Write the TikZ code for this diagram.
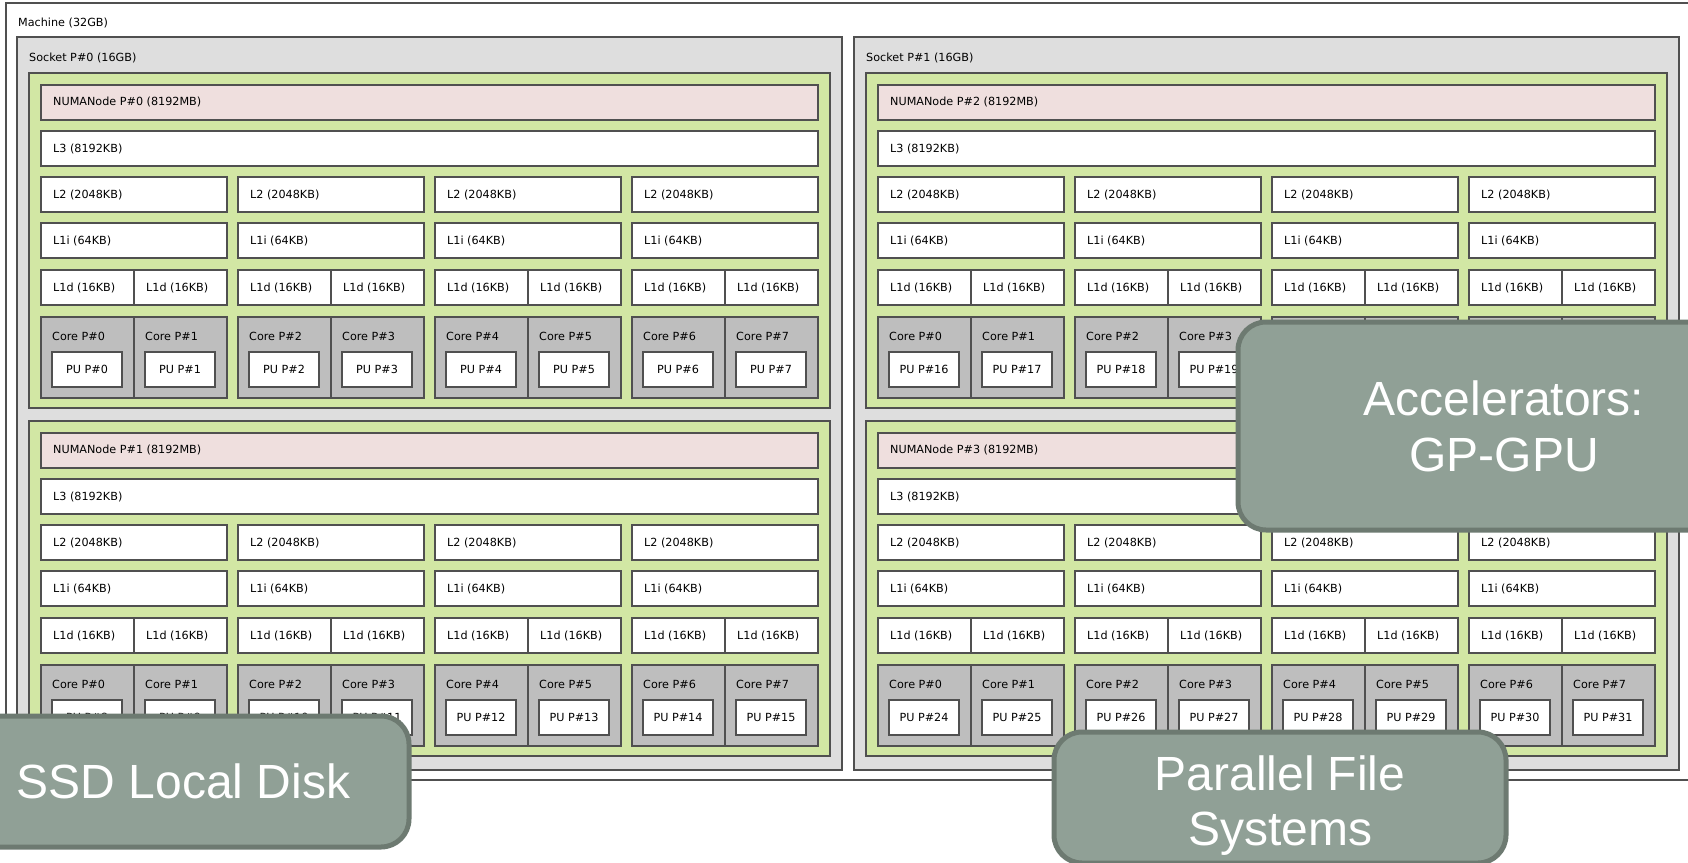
\documentclass[tikz,border=0pt]{standalone}
\usepackage{fontspec}
\setmainfont{DejaVu Sans}
\newfontfamily\ovfont{Liberation Sans}

\definecolor{socketfill}{HTML}{DEDEDE}
\definecolor{numafill}{HTML}{D2E7A4}
\definecolor{memfill}{HTML}{EFDFDE}
\definecolor{corefill}{HTML}{BEBEBE}
\definecolor{ovfill}{HTML}{90A096}
\definecolor{ovline}{HTML}{6D7A71}
\definecolor{edge}{HTML}{505050}

\tikzset{
  obj/.style={draw=edge, line width=1.4pt, rectangle, anchor=north west,
    inner sep=0pt, outer sep=0pt},
  machinebox/.style={obj, fill=white},
  socketbox/.style={obj, fill=socketfill},
  numabox/.style={obj, fill=numafill},
  membox/.style={obj, fill=memfill, minimum height=35pt},
  cachebox/.style={obj, fill=white, minimum height=35pt},
  corebox/.style={obj, fill=corefill, minimum width=93pt, minimum height=81pt},
  pubox/.style={obj, fill=white, anchor=center, minimum width=70pt,
    minimum height=35pt, font=\fontsize{11.2pt}{13pt}\selectfont},
  lbl/.style={anchor=west, inner sep=0pt, font=\fontsize{11.2pt}{13pt}\selectfont},
  callout/.style={draw=ovline, fill=ovfill, line width=5pt, rounded corners=28pt,
    inner sep=0pt, align=center, text=white,
    font=\ovfont\fontsize{48pt}{56pt}\selectfont},
  callouttext/.style={inner sep=0pt, align=center, text=white,
    font=\ovfont\fontsize{48pt}{55pt}\selectfont},
}

\begin{document}
\begin{tikzpicture}[x=1pt, y=-1pt]
\useasboundingbox (0,0) rectangle (1688,862);

% whole machine
\node[machinebox, minimum width=1690pt, minimum height=777pt] (machine) at (6,3) {};
\node[lbl] (machine-t) at (18,23) {Machine (32GB)};

\foreach \s in {0,1} {
  \pgfmathsetmacro\sx{17+837*\s}
  \node[socketbox, minimum width=825pt, minimum height=733pt] (sock\s) at (\sx,37) {};
  \node[lbl] (sock\s-t) at (\sx+12,58) {Socket P\#\s\ (16GB)};
  \foreach \n in {0,1} {
    \pgfmathtruncatemacro\numa{2*\s+\n}
    \pgfmathsetmacro\ny{348*\n}
    % NUMA node with its memory bar and shared L3
    \node[numabox, minimum width=801pt, minimum height=335pt] (numa\numa) at (\sx+12,73+\ny) {};
    \node[membox, minimum width=777pt] (mem\numa) at (\sx+24,85+\ny) {};
    \node[lbl] (mem\numa-t) at (\sx+36,102+\ny) {NUMANode P\#\numa\ (8192MB)};
    \node[cachebox, minimum width=777pt] (l3-\numa) at (\sx+24,131+\ny) {};
    \node[lbl] (l3-\numa-t) at (\sx+36,148.5+\ny) {L3 (8192KB)};
    \foreach \g in {0,...,3} {
      \pgfmathsetmacro\gx{\sx+24+197*\g}
      \node[cachebox, minimum width=186pt] (l2-\numa-\g) at (\gx,177+\ny) {};
      \node[lbl] (l2-\numa-\g-t) at (\gx+12,194.5+\ny) {L2 (2048KB)};
      \node[cachebox, minimum width=186pt] (l1i-\numa-\g) at (\gx,223+\ny) {};
      \node[lbl] (l1i-\numa-\g-t) at (\gx+12,240.5+\ny) {L1i (64KB)};
      \foreach \h in {0,1} {
        \pgfmathsetmacro\cx{\gx+93*\h}
        \pgfmathtruncatemacro\c{2*\g+\h}
        \pgfmathtruncatemacro\pu{8*\numa+\c}
        \node[cachebox, minimum width=93pt] (l1d-\numa-\c) at (\cx,270+\ny) {};
        \node[lbl] (l1d-\numa-\c-t) at (\cx+12,287.5+\ny) {L1d (16KB)};
        \node[corebox] (core-\numa-\c) at (\cx,317+\ny) {};
        \node[lbl] (core-\numa-\c-t) at (\cx+11,336+\ny) {Core P\#\c};
        \node[pubox] (pu\pu) at (\cx+46,369.5+\ny) {PU P\#\pu};
      }
    }
  }
}

% storage and accelerator callouts
\node[callout, minimum width=532pt, minimum height=208pt] (gpu) at (1504,426)
  {Accelerators:\\GP-GPU};
\node[callout, minimum width=451pt, minimum height=131pt] (ssd) at (183.5,781.5)
  {SSD Local Disk};
\node[callout, minimum width=452pt, minimum height=131pt] (pfs) at (1280,797.5) {};
\node[callouttext, text depth=0pt] (pfs-t) at (1280,800.5) {Parallel File\\Systems};
\end{tikzpicture}
\end{document}
